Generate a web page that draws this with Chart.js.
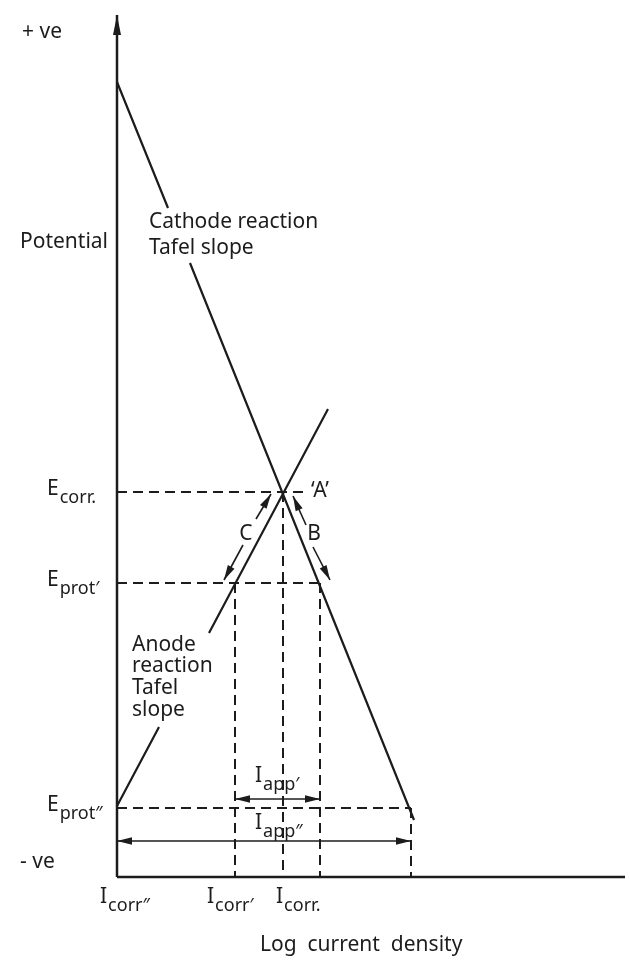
<!DOCTYPE html>
<html>
<head>
<meta charset="utf-8">
<title>Evans diagram</title>
<script src="https://cdn.jsdelivr.net/npm/chart.js@4.4.1/dist/chart.umd.min.js"></script>
<style>
  html, body { margin: 0; padding: 0; background: #fff; }
  #wrap { width: 630px; height: 961px; position: relative; }
</style>
</head>
<body>
<div id="wrap"><canvas id="chart"></canvas></div>
<script>
// Axis units are arbitrary: x = log current density, y = potential (0 at the bottom axis)
const X_MAX = 50.8;
const Y_MAX = 86.2;

// Potential levels
const potentialNames = [['E', 'corr.'], ['E', 'prot\u2032'], ['E', 'prot\u2033']];
const potentialValues = [38.5, 29.4, 6.9];

// Current levels
const currentNames = [['I', 'corr\u2033'], ['I', 'corr\u2032'], ['I', 'corr.']];
const currentValues = [0, 11.8, 16.6];
const cathodeAtEprot1 = 20.3;   // cathode current at E_prot'
const cathodeAtEprot2 = 29.4;   // cathode current at E_prot''
const appliedLevels = [7.8, 3.6]; // where the I_app' and I_app'' arrows sit

// Tafel lines (null = gap where the caption sits)
const cathodeX = [0, 5.1, null, 7.3, 29.7];
const cathodeY = [79.5, 66.9, null, 61.4, 5.7];
const anodeX = [0, 4.2, null, 9.2, 21.1];
const anodeY = [7.1, 15.0, null, 24.4, 46.8];

// Polarisation arrows C (along the anode line) and B (along the cathode line)
const arrowCX = [[12.6, 10.7], [13.9, 15.4]];
const arrowCY = [[33.2, 29.7], [35.8, 38.3]];
const arrowBX = [[19.6, 21.3], [18.9, 17.6]];
const arrowBY = [[33.0, 29.7], [35.2, 38.1]];

const INK = '#1c1c1c';
const FONT = '"Noto Sans", "DejaVu Sans", sans-serif';

function pts(xs, ys) {
  return xs.map((x, i) => ({ x: x === null ? (xs[i - 1] + xs[i + 1]) / 2 : x, y: ys[i] }));
}

function solid(data, arrows, width) {
  return { data, arrows: arrows || [], borderColor: INK, backgroundColor: INK,
    borderWidth: width || 2.2, pointRadius: 0, tension: 0, clip: false };
}

function dashed(data) {
  return { data, borderColor: INK, borderWidth: 2, borderDash: [10, 6],
    pointRadius: 0, tension: 0, clip: false };
}

const datasets = [
  // axes
  solid([{ x: 0, y: 0 }, { x: 0, y: Y_MAX }], ['end'], 2.5),
  solid([{ x: 0, y: 0 }, { x: X_MAX, y: 0 }], [], 2.5),
  // Tafel lines
  solid(pts(cathodeX, cathodeY)),
  solid(pts(anodeX, anodeY)),
  // horizontal dashed potentials
  dashed([{ x: 0, y: potentialValues[0] }, { x: 18.6, y: potentialValues[0] }]),
  dashed([{ x: 0, y: potentialValues[1] }, { x: cathodeAtEprot1, y: potentialValues[1] }]),
  dashed([{ x: 0, y: potentialValues[2] }, { x: cathodeAtEprot2, y: potentialValues[2] }]),
  // vertical dashed currents
  dashed([{ x: currentValues[1], y: potentialValues[1] }, { x: currentValues[1], y: 0 }]),
  dashed([{ x: currentValues[2], y: potentialValues[0] }, { x: currentValues[2], y: 0 }]),
  dashed([{ x: cathodeAtEprot1, y: potentialValues[1] }, { x: cathodeAtEprot1, y: 0 }]),
  dashed([{ x: cathodeAtEprot2, y: potentialValues[2] }, { x: cathodeAtEprot2, y: 0 }]),
  // applied currents
  solid([{ x: currentValues[1], y: appliedLevels[0] }, { x: cathodeAtEprot1, y: appliedLevels[0] }], ['start', 'end'], 1.6),
  solid([{ x: currentValues[0], y: appliedLevels[1] }, { x: cathodeAtEprot2, y: appliedLevels[1] }], ['start', 'end'], 1.6),
  // C and B
  solid(pts(arrowCX[0], arrowCY[0]), ['end'], 1.6),
  solid(pts(arrowCX[1], arrowCY[1]), ['end'], 1.6),
  solid(pts(arrowBX[0], arrowBY[0]), ['end'], 1.6),
  solid(pts(arrowBX[1], arrowBY[1]), ['end'], 1.6)
];

// text placed in data units: [text, subscript, x, y, align]
const captions = [
  ['+ ve', '', -9.5, 84.5],
  ['Potential', '', -9.7, 63.5],
  ['Cathode reaction', '', 3.2, 65.5],
  ['Tafel slope', '', 3.2, 62.9],
  ['\u2018A\u2019', '', 19.4, 38.6],
  ['C', '', 12.9, 34.3, 'center'],
  ['B', '', 19.7, 34.3, 'center'],
  ['Anode', '', 1.5, 23.2],
  ['reaction', '', 1.5, 21.1],
  ['Tafel', '', 1.5, 18.9],
  ['slope', '', 1.5, 16.7],
  ['- ve', '', -9.7, 1.5],
  ['Log  current  density', '', 14.3, -6.8],
  ['I', 'app\u2032', 13.8, 10.1],
  ['I', 'app\u2033', 13.8, 5.4],
  [potentialNames[0][0], potentialNames[0][1], -7.0, potentialValues[0] + 0.3],
  [potentialNames[1][0], potentialNames[1][1], -7.0, potentialValues[1] + 0.3],
  [potentialNames[2][0], potentialNames[2][1], -7.0, potentialValues[2] + 0.3],
  [currentNames[0][0], currentNames[0][1], currentValues[0] - 1.7, -2.0],
  [currentNames[1][0], currentNames[1][1], currentValues[1] - 2.8, -2.0],
  [currentNames[2][0], currentNames[2][1], currentValues[2] - 0.7, -2.0]
];

const arrowHeads = {
  id: 'arrowHeads',
  afterDatasetsDraw(chart) {
    const ctx = chart.ctx;
    chart.data.datasets.forEach((ds, i) => {
      if (!ds.arrows || !ds.arrows.length) return;
      const p = chart.getDatasetMeta(i).data;
      const ends = [];
      if (ds.arrows.includes('start')) ends.push([p[0], p[1]]);
      if (ds.arrows.includes('end')) ends.push([p[p.length - 1], p[p.length - 2]]);
      const len = ds.borderWidth > 2 ? 20 : 15;
      const half = ds.borderWidth > 2 ? 4 : 3.8;
      ends.forEach(([tip, from]) => {
        const a = Math.atan2(tip.y - from.y, tip.x - from.x);
        ctx.save();
        ctx.fillStyle = INK;
        ctx.translate(tip.x, tip.y);
        ctx.rotate(a);
        ctx.beginPath();
        ctx.moveTo(0, 0);
        ctx.lineTo(-len, -half);
        ctx.lineTo(-len, half);
        ctx.closePath();
        ctx.fill();
        ctx.restore();
      });
    });
  }
};

const captionText = {
  id: 'captionText',
  afterDraw(chart) {
    const ctx = chart.ctx;
    const sx = chart.scales.x, sy = chart.scales.y;
    ctx.save();
    ctx.fillStyle = INK;
    ctx.textBaseline = 'middle';
    captions.forEach(([text, sub, x, y, align]) => {
      const px = sx.getPixelForValue(x);
      const py = sy.getPixelForValue(y);
      ctx.font = '21px ' + FONT;
      ctx.textAlign = align || 'left';
      ctx.fillText(text, px, py);
      if (sub) {
        const w = ctx.measureText(text).width;
        ctx.font = '18px ' + FONT;
        ctx.textAlign = 'left';
        ctx.fillText(sub, px + w + 1, py + 9);
      }
    });
    ctx.restore();
  }
};

new Chart(document.getElementById('chart'), {
  type: 'line',
  data: { datasets },
  plugins: [arrowHeads, captionText],
  options: {
    responsive: true,
    maintainAspectRatio: false,
    animation: false,
    devicePixelRatio: 1,
    layout: { padding: { left: 117, right: 5, top: 15, bottom: 84 } },
    scales: {
      x: { type: 'linear', min: 0, max: X_MAX, display: false },
      y: { type: 'linear', min: 0, max: Y_MAX, display: false }
    },
    plugins: {
      legend: { display: false },
      tooltip: { enabled: false }
    }
  }
});
</script>
</body>
</html>
